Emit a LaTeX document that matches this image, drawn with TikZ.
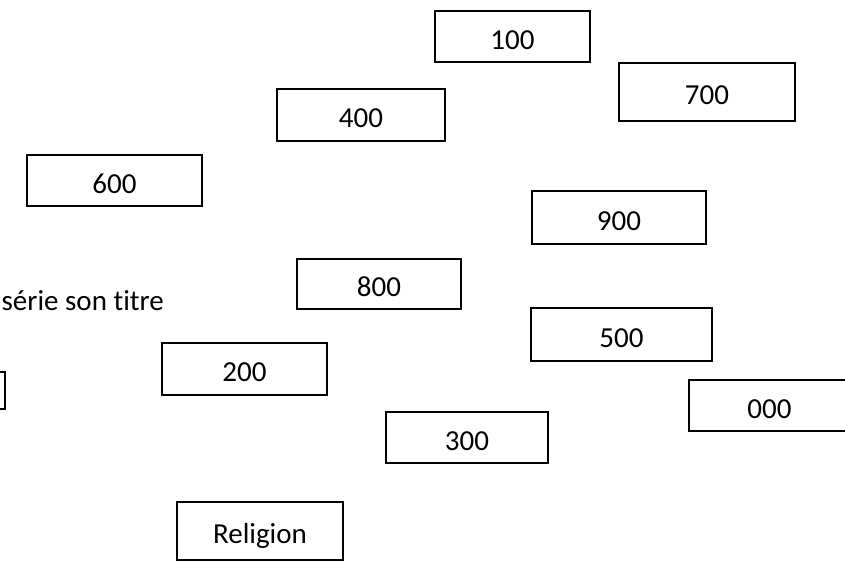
\documentclass[tikz,border=0pt]{standalone}
\usepackage{fontspec}
\setmainfont{Carlito}[Ligatures={NoCommon}]
\begin{document}
\begin{tikzpicture}[x=1pt,y=-1pt,
  card/.style={draw, line width=1.2pt, inner sep=0pt, text height=25.5pt, text depth=0pt,
    font=\fontsize{29}{34}\selectfont},
  plain/.style={inner sep=0pt, font=\fontsize{29}{34}\selectfont}]
\useasboundingbox (0,0) rectangle (845,562);
\clip (0,0) rectangle (845,562);
\fill[white] (0,0) rectangle (845,562);
\node[card, minimum width=155pt, minimum height=51pt] (b100) at (512.5,36.5) {100};
\node[card, minimum width=176pt, minimum height=58pt] (b700) at (707,92) {700};
\node[card, minimum width=168pt, minimum height=52pt] (b400) at (361,115) {400};
\node[card, minimum width=175pt, minimum height=51pt] (b600) at (114.5,180.5) {600};
\node[card, minimum width=174pt, minimum height=53pt] (b900) at (619,217.5) {900};
\node[card, minimum width=164pt, minimum height=50pt] (b800) at (379,284) {800};
\node[card, minimum width=181pt, minimum height=53pt] (b500) at (621.5,334.5) {500};
\node[card, minimum width=165pt, minimum height=52pt] (b200) at (244.5,369) {200};
\node[card, minimum width=161pt, minimum height=51pt] (b000) at (769.5,405.5) {000};
\node[card, minimum width=162pt, minimum height=51pt] (b300) at (467,437.5) {300};
\node[card, minimum width=166pt, minimum height=58pt] (brel) at (260,531) {Religion};
\node[card, minimum width=105pt, minimum height=37pt] (bleft) at (-47.5,390.5) {};
\node[plain, anchor=base east] (serie) at (164,310) {série son titre};
\end{tikzpicture}
\end{document}
